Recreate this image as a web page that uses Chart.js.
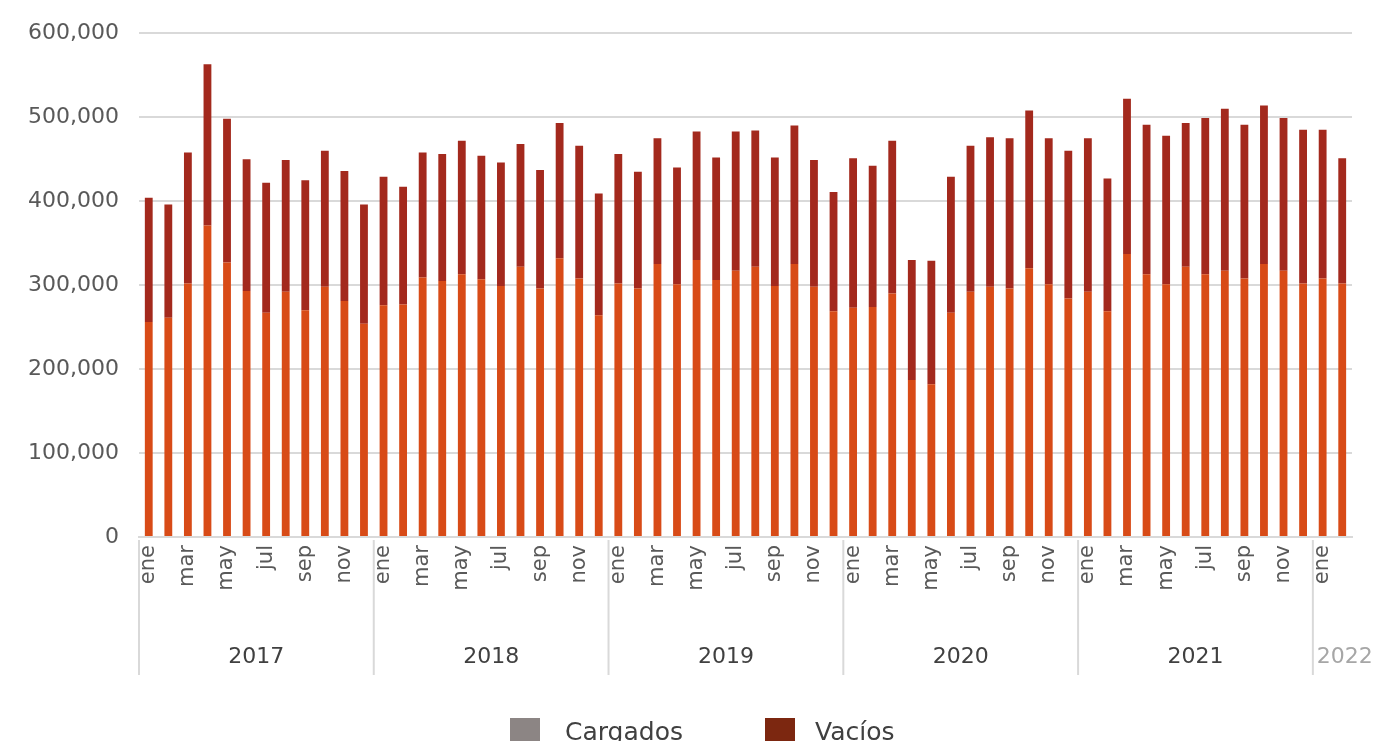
<!DOCTYPE html>
<html>
<head>
<meta charset="utf-8">
<script src="https://cdn.jsdelivr.net/npm/chart.js@4.4.1/dist/chart.umd.min.js"></script>
<style>
  html, body { margin: 0; padding: 0; background: #fff; overflow: hidden; }
  #wrap { position: relative; width: 1386px; height: 741px; }
  .legend { position: absolute; top: 716px; left: 0; font-family: "DejaVu Sans", sans-serif; font-size: 25px; color: #404040; }
  .legend span.box { position: absolute; top: 2px; width: 30px; height: 30px; }
  .legend span.txt { position: absolute; top: 0; line-height: 32px; white-space: nowrap; }
</style>
</head>
<body>
<div id="wrap">
  <canvas id="myChart"></canvas>
  <div class="legend" id="legend"></div>
</div>
<script>
// datos
var years = ['2017', '2018', '2019', '2020', '2021', '2022'];
var monthsInYear = [12, 12, 12, 12, 12, 2];
var monthNames = ['ene', 'feb', 'mar', 'abr', 'may', 'jun', 'jul', 'ago', 'sep', 'oct', 'nov', 'dic'];
var yTicks = [0, 100000, 200000, 300000, 400000, 500000, 600000];

var cargados = [
  256000, 261000, 302000, 371000, 327000, 293000, 267000, 292000, 270000, 298000, 281000, 254000,
  276000, 277000, 309000, 305000, 313000, 307000, 299000, 322000, 296000, 332000, 308000, 264000,
  302000, 296000, 325000, 301000, 330000, 306000, 317000, 322000, 299000, 325000, 298000, 269000,
  273000, 274000, 290000, 187000, 182000, 267000, 292000, 298000, 296000, 320000, 301000, 284000,
  292000, 269000, 337000, 313000, 301000, 322000, 313000, 317000, 308000, 325000, 317000, 302000,
  308000, 302000
];
var vacios = [
  148000, 135000, 156000, 192000, 171000, 157000, 155000, 157000, 155000, 162000, 155000, 142000,
  153000, 140000, 149000, 151000, 159000, 147000, 147000, 146000, 141000, 161000, 158000, 145000,
  154000, 139000, 150000, 139000, 153000, 146000, 166000, 162000, 153000, 165000, 151000, 142000,
  178000, 168000, 182000, 143000, 147000, 162000, 174000, 178000, 179000, 188000, 174000, 176000,
  183000, 158000, 185000, 178000, 177000, 171000, 186000, 193000, 183000, 189000, 182000, 183000,
  177000, 149000
];

var barColors = ['#d84b17', '#a3291d'];
var legendColors = ['#8c8584', '#7c2710'];
var seriesNames = ['Cargados', 'Vacíos'];

// etiquetas de mes
var labels = [];
years.forEach(function (y, i) {
  for (var m = 0; m < monthsInYear[i]; m++) {
    labels.push(monthNames[m]);
  }
});

var fontFamily = '"DejaVu Sans", sans-serif';

// años debajo del eje x, con separadores
var yearGroups = {
  id: 'yearGroups',
  afterDraw: function (chart) {
    var ctx = chart.ctx;
    var x = chart.scales.x;
    var step = x.getPixelForValue(1) - x.getPixelForValue(0);
    var top = x.top + 3;
    var bottom = x.top + 138;
    var start = 0;
    ctx.save();
    ctx.strokeStyle = '#d9d9d9';
    ctx.lineWidth = 2;
    ctx.font = '22px ' + fontFamily;
    ctx.textBaseline = 'middle';
    years.forEach(function (y, i) {
      var n = monthsInYear[i];
      var left = x.getPixelForValue(start) - step / 2;
      var right = x.getPixelForValue(start + n - 1) + step / 2;
      ctx.beginPath();
      ctx.moveTo(left, top);
      ctx.lineTo(left, bottom);
      ctx.stroke();
      ctx.fillStyle = (i == years.length - 1) ? '#a6a6a6' : '#404040';
      var w = ctx.measureText(y).width;
      if (w > right - left) {
        // grupo corto: texto pegado al separador
        ctx.textAlign = 'left';
        ctx.fillText(y, left + 4, x.top + 120);
      } else {
        ctx.textAlign = 'center';
        ctx.fillText(y, (left + right) / 2, x.top + 120);
      }
      start += n;
    });
    ctx.restore();
  }
};

// leyenda
var legendPos = [[510, 565], [765, 815]];
var lg = document.getElementById('legend');
seriesNames.forEach(function (name, i) {
  var b = document.createElement('span');
  b.className = 'box';
  b.style.left = legendPos[i][0] + 'px';
  b.style.background = legendColors[i];
  var t = document.createElement('span');
  t.className = 'txt';
  t.style.left = legendPos[i][1] + 'px';
  t.textContent = name;
  lg.appendChild(b);
  lg.appendChild(t);
});

var ctx = document.getElementById('myChart').getContext('2d');
var myChart = new Chart(ctx, {
  type: 'bar',
  data: {
    labels: labels,
    datasets: [{
      label: seriesNames[0],
      data: cargados,
      backgroundColor: barColors[0]
    }, {
      label: seriesNames[1],
      data: vacios,
      backgroundColor: barColors[1]
    }]
  },
  options: {
    responsive: true,
    maintainAspectRatio: false,
    animation: false,
    events: [],
    datasets: {
      bar: { categoryPercentage: 1, barPercentage: 0.4 }
    },
    layout: {
      padding: { top: 18, right: 34, left: 8, bottom: 61 }
    },
    scales: {
      x: {
        stacked: true,
        grid: { display: false, drawTicks: false },
        border: { display: true, color: '#d9d9d9', width: 2 },
        ticks: {
          autoSkip: false,
          minRotation: 90,
          maxRotation: 90,
          padding: 8,
          color: '#595959',
          font: { family: fontFamily, size: 21 },
          callback: function (v, i) {
            return i % 2 == 0 ? labels[i] : '';
          }
        },
        afterFit: function (scale) {
          scale.height = 143;
        }
      },
      y: {
        stacked: true,
        min: 0,
        max: 600000,
        afterBuildTicks: function (scale) {
          scale.ticks = yTicks.map(function (v) { return { value: v }; });
        },
        grid: { color: '#d9d9d9', lineWidth: 2, drawTicks: false },
        border: { display: false },
        ticks: {
          padding: 20,
          color: '#595959',
          font: { family: fontFamily, size: 22 },
          callback: function (v) {
            return v.toLocaleString('en-US');
          }
        }
      }
    },
    plugins: {
      tooltip: { enabled: false },
      legend: { display: false }
    }
  },
  plugins: [yearGroups]
});
</script>
</body>
</html>
